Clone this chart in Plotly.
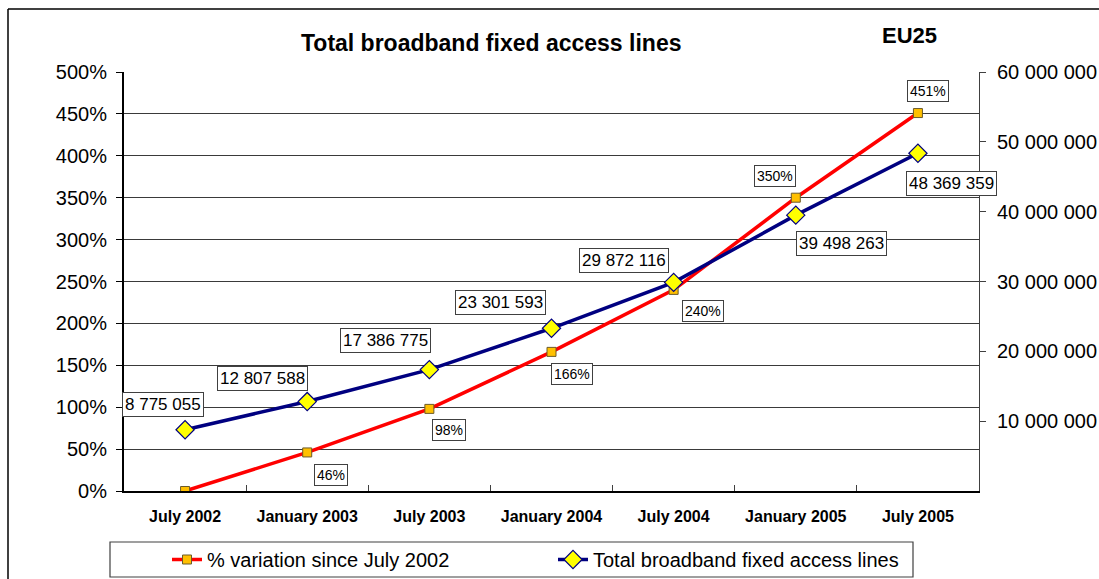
import plotly.graph_objects as go

periods = ["July 2002", "January 2003", "July 2003", "January 2004",
           "July 2004", "January 2005", "July 2005"]
pct_variation = [0, 46, 98, 166, 240, 350, 451]
total_lines = [8775055, 12807588, 17386775, 23301593, 29872116, 39498263, 48369359]

pct_ticks = [0, 50, 100, 150, 200, 250, 300, 350, 400, 450, 500]
line_ticks = [10e6, 20e6, 30e6, 40e6, 50e6, 60e6]

FONT = "Liberation Sans, Arial, sans-serif"

# plot area in pixels
L, R, T, B = 124, 979, 72, 491
W, H = R - L, B - T


def spaced(n):
    return f"{n:,}".replace(",", " ")


def px(x):
    return (x - L) / W


def py(y):
    return (B - y) / H


fig = go.Figure()
fig.add_trace(go.Scatter(
    x=periods, y=pct_variation, name="% variation since July 2002",
    mode="lines+markers", line=dict(color="#FF0000", width=3.5),
    marker=dict(symbol="square", size=9, color="#FFC000",
                line=dict(color="#6b5a2a", width=1)),
))
fig.add_trace(go.Scatter(
    x=periods, y=total_lines, name="Total broadband fixed access lines",
    yaxis="y2", mode="lines+markers", line=dict(color="#000080", width=3.5),
    marker=dict(symbol="diamond", size=14, color="#FFFF00",
                line=dict(color="#000080", width=1.2)),
))

# data labels (offsets in pixels from the point)
pct_offsets = [None, (24, -23), (20, -21), (20, -22), (29, -21), (-21, 22), (10, 22)]
line_offsets = [(-22, 25), (-45, 23), (-44, 29), (-51, 26), (-50, 22), (46, -28), (34, -30)]

for i, p in enumerate(periods):
    if pct_offsets[i] is not None:
        dx, dy = pct_offsets[i]
        fig.add_annotation(
            x=p, y=pct_variation[i], text=f"{pct_variation[i]}%", showarrow=False,
            xshift=dx, yshift=dy, font=dict(family=FONT, size=14, color="black"),
            bgcolor="white", bordercolor="#404040", borderwidth=1, borderpad=2,
        )
    dx, dy = line_offsets[i]
    fig.add_annotation(
        x=p, y=total_lines[i], yref="y2", text=spaced(total_lines[i]), showarrow=False,
        xshift=dx, yshift=dy, font=dict(family=FONT, size=17, color="black"),
        bgcolor="white", bordercolor="#404040", borderwidth=1, borderpad=2,
    )

fig.add_annotation(
    x=px(491), y=py(43), xref="paper", yref="paper", xanchor="center", yanchor="middle",
    text="<b>Total broadband fixed access lines</b>", showarrow=False,
    font=dict(family=FONT, size=23, color="black"),
)
fig.add_annotation(
    x=px(909), y=py(35), xref="paper", yref="paper", xanchor="center", yanchor="middle",
    text="<b>EU25</b>", showarrow=False, font=dict(family=FONT, size=22, color="black"),
)

# outer frame and legend box
fig.add_shape(type="line", xref="paper", yref="paper",
              x0=px(8), x1=px(1099), y0=py(9), y1=py(9),
              line=dict(color="black", width=1.5))
fig.add_shape(type="line", xref="paper", yref="paper",
              x0=px(8), x1=px(8), y0=py(9), y1=py(579),
              line=dict(color="black", width=1.5))
fig.add_shape(type="rect", xref="paper", yref="paper",
              x0=px(110), x1=px(913), y0=py(577), y1=py(542),
              line=dict(color="#404040", width=1.2), fillcolor="rgba(0,0,0,0)")

fig.update_layout(
    width=1099, height=579,
    margin=dict(l=L, r=1099 - R, t=T, b=579 - B, autoexpand=False),
    paper_bgcolor="white", plot_bgcolor="white",
    font=dict(family=FONT, color="black"),
    showlegend=True,
    legend=dict(orientation="h", x=px(167), y=py(540),
                xanchor="left", yanchor="top", entrywidth=341,
                font=dict(family=FONT, size=20, color="black"),
                bgcolor="rgba(0,0,0,0)"),
    xaxis=dict(
        type="category", range=[-0.5, 6.5], showgrid=False,
        showline=True, linecolor="black", linewidth=2,
        ticks="inside", tickson="boundaries", ticklen=6, tickcolor="#404040",
        tickfont=dict(family=FONT, size=16, color="black", weight="bold"),
        ticklabelstandoff=10,
    ),
    yaxis=dict(
        range=[0, 500], tickvals=pct_ticks, ticktext=[f"{v}%" for v in pct_ticks],
        showgrid=True, gridcolor="#3a3a3a", gridwidth=1,
        showline=True, linecolor="black", linewidth=2,
        ticks="outside", ticklen=6, tickcolor="black",
        tickfont=dict(family=FONT, size=20, color="black"),
        ticklabelstandoff=5, zeroline=False,
    ),
    yaxis2=dict(
        overlaying="y", side="right", range=[0, 60e6],
        tickvals=line_ticks, ticktext=[spaced(int(v)) for v in line_ticks],
        showgrid=False, showline=True, linecolor="#404040", linewidth=1,
        ticks="outside", ticklen=6, tickcolor="#404040",
        tickfont=dict(family=FONT, size=20, color="black"),
        ticklabelstandoff=7, zeroline=False,
    ),
)

# the page's default body margin would push the figure off the window
fig.write_html(
    "out.html",
    config={"displayModeBar": False},
    post_script="document.body.style.margin='0';document.body.style.overflow='hidden';",
)
